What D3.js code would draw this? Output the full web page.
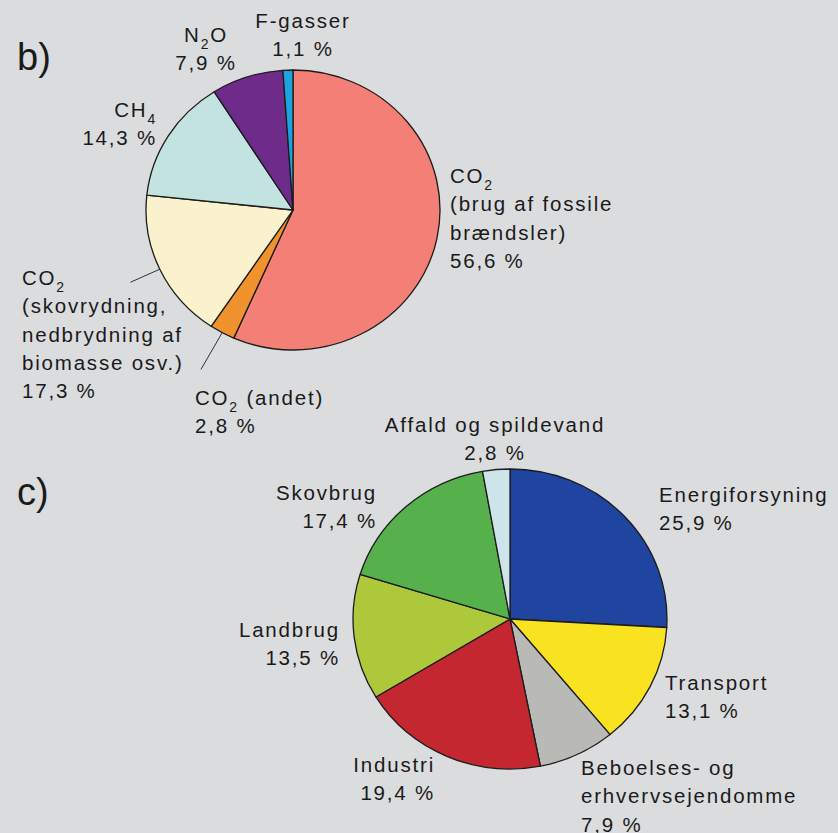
<!DOCTYPE html>
<html>
<head>
<meta charset="utf-8">
<script src="https://cdn.jsdelivr.net/npm/d3@7"></script>
<style>
  html, body { margin: 0; padding: 0; background: #dbdcde; }
  svg { display: block; }
  text { font-family: "Liberation Sans", Arial, Helvetica, sans-serif; fill: #1a1a1a; }
</style>
</head>
<body>
<svg width="838" height="833"></svg>
<script>
// b) drivhusgasser
var bNames = ['CO{2}|(brug af fossile|brændsler)', 'CO{2} (andet)', 'CO{2}|(skovrydning,|nedbrydning af|biomasse osv.)', 'CH{4}', 'N{2}O', 'F-gasser']
var bValues = [56.6, 2.8, 17.3, 14.3, 7.9, 1.1]
var bColors = ['#f47f76', '#f0922e', '#faf2cc', '#c3e3e1', '#6f2b8a', '#1ba2df']

// c) sektorer
var cNames = ['Energiforsyning', 'Transport', 'Beboelses- og|erhvervsejendomme', 'Industri', 'Landbrug', 'Skovbrug', 'Affald og spildevand']
var cValues = [25.9, 13.1, 7.9, 19.4, 13.5, 17.4, 2.8]
var cColors = ['#1f45a0', '#f9e220', '#b9bab5', '#c4272f', '#adc83b', '#56b04b', '#cde4ea']

// label placement (anchor, x, baseline of first line), leader lines
var bLayout = [
  { a: 'start', x: 450, y: 183 },
  { a: 'start', x: 195, y: 405, lead: [1, 1.3] },
  { a: 'start', x: 22, y: 285, lead: [1, 1.22] },
  { a: 'end', x: 157, y: 117 },
  { a: 'middle', x: 206, y: 42 },
  { a: 'middle', x: 303, y: 28 }
]
var cLayout = [
  { a: 'start', x: 659, y: 502 },
  { a: 'start', x: 665, y: 690 },
  { a: 'start', x: 581, y: 775 },
  { a: 'end', x: 435, y: 772 },
  { a: 'end', x: 340, y: 637 },
  { a: 'end', x: 377, y: 500 },
  { a: 'middle', x: 495, y: 432 }
]

var svg = d3.select('svg')
var lineH = 28.3
var pct = function (v) { return v.toFixed(1).replace('.', ',') + ' %' }

svg.append('text').attr('x', 17).attr('y', 70).style('font-size', '38px').text('b)')
svg.append('text').attr('x', 17).attr('y', 505).style('font-size', '38px').text('c)')

drawPie({ cx: 293, cy: 210, rx: 147, ry: 140 }, bNames, bValues, bColors, bLayout)
drawPie({ cx: 510, cy: 619, rx: 157, ry: 150 }, cNames, cValues, cColors, cLayout)

function drawPie(p, names, values, colors, layout) {
  var arcs = d3.pie().sort(null).value(function (d) { return d })(values)
  var arc = d3.arc().innerRadius(0).outerRadius(p.rx)
  var g = svg.append('g')
    .attr('transform', 'translate(' + p.cx + ',' + p.cy + ') scale(1,' + (p.ry / p.rx) + ')')

  g.selectAll('path').data(arcs).enter().append('path')
    .attr('d', arc)
    .attr('fill', function (d, i) { return colors[i] })
    .attr('stroke', '#1c1c1c')
    .attr('stroke-width', 1.3)
    .attr('stroke-linejoin', 'round')
    .attr('vector-effect', 'non-scaling-stroke')

  arcs.forEach(function (d, i) {
    var L = layout[i]
    if (L.lead) {
      var m = (d.startAngle + d.endAngle) / 2
      var pt = function (k) { return [p.cx + Math.sin(m) * p.rx * k, p.cy - Math.cos(m) * p.ry * k] }
      var a = pt(L.lead[0]), b = pt(L.lead[1])
      svg.append('line').attr('x1', a[0]).attr('y1', a[1]).attr('x2', b[0]).attr('y2', b[1])
        .attr('stroke', '#333').attr('stroke-width', 1)
    }
    var lines = names[i].split('|').concat([pct(values[i])])
    var t = svg.append('text')
      .attr('text-anchor', L.a)
      .style('font-size', '20.5px')
      .style('letter-spacing', '1.8px')
    lines.forEach(function (s, j) {
      var row = t.append('tspan').attr('x', L.x).attr('y', L.y + j * lineH)
      var shift = 0
      s.split(/(\{[^}]*\})/).forEach(function (part) {
        if (!part) return
        if (part[0] === '{') {
          row.append('tspan').attr('dy', 7).style('font-size', '14px').text(part.slice(1, -1))
          shift = -7
        } else {
          var sp = row.append('tspan').text(part)
          if (shift) sp.attr('dy', shift)
          shift = 0
        }
      })
    })
  })
}
</script>
</body>
</html>
